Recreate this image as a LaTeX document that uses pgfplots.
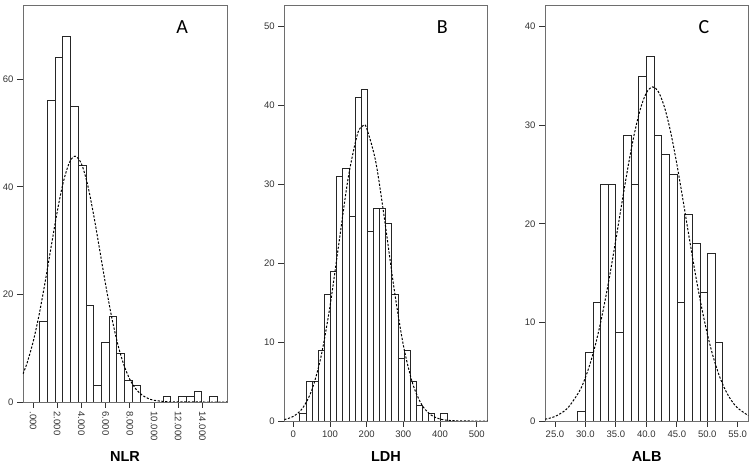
\documentclass[border=0pt]{standalone}
\usepackage{fontspec}
\setmainfont{Liberation Sans}
\newfontfamily\letterfont{Carlito}
\usepackage{pgfplots}
\pgfplotsset{compat=1.18}
\definecolor{framegray}{HTML}{6E6E6E}
\definecolor{ticktext}{HTML}{333333}

\pgfplotsset{
  spss/.style={
    scale only axis, anchor=south west,
    axis line style={framegray, line width=0.9pt},
    tick style={black!80, line width=0.9pt},
    tick align=outside, major tick length=6pt,
    xtick pos=bottom, ytick pos=left,
    ticklabel style={font=\fontsize{9.5}{10}\selectfont, text=ticktext},
    /pgf/number format/assume math mode=true,
    xlabel style={font=\fontsize{14.5}{16}\selectfont\bfseries,
      at={(axis description cs:0.5,0)}, anchor=center},
    ymin=0,
  },
  hist/.style={ybar interval, fill=white, draw=black!85, line width=0.8pt},
  curve/.style={black, dash pattern=on 2.2pt off 1.6pt, line width=1pt, mark=none, smooth},
}
\tikzset{letter/.style={font=\letterfont\fontsize{20}{21}\selectfont}}

\begin{document}
\begin{tikzpicture}
\path[use as bounding box] (0pt,0pt) rectangle (753pt,466pt);

% ---- A: NLR
\begin{axis}[spss, at={(23pt,64pt)}, width=204pt, height=397pt,
  xmin=-0.83, xmax=16.03, ymax=73.8,
  xtick={0,2,4,6,8,10,12,14},
  xticklabels={.000,2.000,4.000,6.000,8.000,10.000,12.000,14.000},
  xticklabel style={rotate=-90, anchor=west},
  ytick={0,20,40,60},
  xlabel={NLR}, xlabel style={yshift=-55pt}]
\addplot[hist] coordinates {
  (0.550,15) (1.1875,56) (1.825,64) (2.4625,68) (3.100,55) (3.7375,44)
  (4.375,18) (5.0125,3) (5.650,11) (6.2875,16) (6.925,9) (7.5625,4)
  (8.200,3) (8.8375,0) (9.475,0) (10.1125,0) (10.750,1) (11.3875,0)
  (12.025,1) (12.6625,1) (13.300,2) (13.9375,0) (14.575,1) (15.2125,0)
};
\addplot[curve] coordinates {
  (-0.83,5.23) (-0.5,7.20) (0,11.12) (0.5,16.21) (1,22.30) (1.5,28.92)
  (2,35.40) (2.5,40.86) (3,44.49) (3.48,45.7) (4,44.28) (4.5,40.48)
  (5,34.90) (5.5,28.39) (6,21.79) (6.5,15.77) (7,10.77) (7.5,6.93)
  (8,4.21) (8.5,2.41) (9,1.31) (9.5,0.67) (10,0.32) (11,0.06)
  (12,0.01) (14,0) (16.03,0)
};
\node[letter] at (rel axis cs:0.78,0.945) {A};
\end{axis}

% ---- B: LDH
\begin{axis}[spss, at={(284.3pt,45pt)}, width=203.4pt, height=416pt,
  xmin=-24.5, xmax=530, ymax=52.75,
  xtick={0,100,200,300,400,500},
  ytick={0,10,20,30,40,50},
  xlabel={LDH}, xlabel style={yshift=-36pt}]
\addplot[hist] coordinates {
  (18.0,1) (34.7,5) (51.4,5) (68.1,9) (84.8,16) (101.5,19) (118.2,31)
  (134.9,32) (151.6,26) (168.3,41) (185.0,42) (201.7,24) (218.4,27)
  (235.1,27) (251.8,25) (268.5,16) (285.2,8) (301.9,9) (318.6,5)
  (335.3,2) (352.0,0) (368.7,1) (385.4,0) (402.1,1) (418.8,0)
};
\addplot[curve] coordinates {
  (-24.5,0.18) (0,0.58) (25,1.60) (50,3.85) (75,8.03) (100,14.52)
  (125,22.76) (150,30.91) (175,36.39) (191,37.47) (200,37.12)
  (225,32.83) (250,25.16) (275,16.71) (300,9.62) (325,4.80)
  (350,2.08) (375,0.78) (400,0.25) (425,0.07) (450,0.02) (480,0) (530,0)
};
\node[letter] at (rel axis cs:0.777,0.947) {B};
\end{axis}

% ---- C: ALB
\begin{axis}[spss, at={(545pt,45pt)}, width=203.3pt, height=416pt,
  xmin=23.36, xmax=56.74, ymax=42.2,
  xtick={25,30,35,40,45,50,55},
  xticklabels={25.0,30.0,35.0,40.0,45.0,50.0,55.0},
  ytick={0,10,20,30,40},
  xlabel={ALB}, xlabel style={yshift=-36pt}]
\addplot[hist] coordinates {
  (28.72,1) (29.975,7) (31.23,12) (32.485,24) (33.74,24) (34.995,9)
  (36.25,29) (37.505,24) (38.76,35) (40.015,37) (41.27,29) (42.525,27)
  (43.78,25) (45.035,12) (46.29,21) (47.545,18) (48.80,13) (50.055,17)
  (51.31,8) (52.565,0)
};
\addplot[curve] coordinates {
  (23.36,0.18) (25,0.46) (27,1.26) (29,3.01) (30,4.42) (31,6.29)
  (32,8.65) (33,11.51) (34,14.81) (35,18.43) (36,22.17) (37,25.81)
  (38,29.05) (39,31.62) (40,33.29) (41.04,33.9) (42,33.38) (43,31.79)
  (44,29.28) (45,26.09) (46,22.47) (47,18.73) (48,15.09) (49,11.76)
  (50,8.86) (51,6.46) (52,4.55) (53,3.10) (54,2.05) (55,1.31) (56.74,0.55)
};
\node[letter] at (rel axis cs:0.782,0.947) {C};
\end{axis}
\end{tikzpicture}
\end{document}
